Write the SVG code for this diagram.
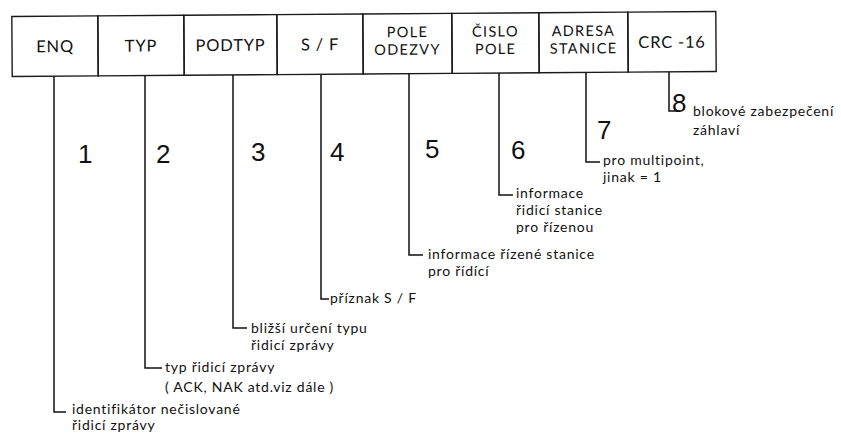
<svg xmlns="http://www.w3.org/2000/svg" width="841" height="434" viewBox="0 0 841 434">
<style>
.box{fill:none;stroke:#1a1a1a;stroke-width:1.4}
.lbl{font-family:Lato,"Open Sans",sans-serif;font-size:16.5px;letter-spacing:0.8px;fill:#111;text-anchor:middle}
.lbl2{font-family:Lato,"Open Sans",sans-serif;font-size:14.5px;letter-spacing:1.3px;fill:#111;text-anchor:middle}
.con{fill:none;stroke:#111;stroke-width:1.5}
.note{font-family:Lato,"Open Sans",sans-serif;font-size:14px;letter-spacing:0.75px;fill:#111}
.num{font-family:"Liberation Sans","DejaVu Sans",sans-serif;font-size:26px;fill:#111}
</style>
<rect width="841" height="434" fill="#fff"/>
<g transform="rotate(-0.4 364 44)">
<g id="box-enq"><rect class="box" x="12" y="14" width="86" height="60"/><text class="lbl" x="55" y="50">ENQ</text></g>
<g id="box-typ"><rect class="box" x="98" y="14" width="86" height="60"/><text class="lbl" x="141" y="50">TYP</text></g>
<g id="box-podtyp"><rect class="box" x="184" y="14" width="93" height="60"/><text class="lbl" x="230.5" y="50">PODTYP</text></g>
<g id="box-sf"><rect class="box" x="277" y="14" width="86" height="60"/><text class="lbl" x="320" y="50">S / F</text></g>
<g id="box-pole-odezvy"><rect class="box" x="363" y="14" width="89" height="60"/><text class="lbl2" x="407.5" y="37.5">POLE</text><text class="lbl2" x="407.5" y="55">ODEZVY</text></g>
<g id="box-cislo-pole"><rect class="box" x="452" y="14" width="87" height="60"/><text class="lbl2" x="495.5" y="37.5">ČISLO</text><text class="lbl2" x="495.5" y="55">POLE</text></g>
<g id="box-adresa"><rect class="box" x="539" y="14" width="89" height="60"/><text class="lbl2" x="583.5" y="37.5">ADRESA</text><text class="lbl2" x="583.5" y="55">STANICE</text></g>
<g id="box-crc"><rect class="box" x="628" y="14" width="88" height="60"/><text class="lbl" x="672" y="50">CRC -16</text></g>
</g>
<g id="connectors">
<path class="con" d="M54 76.2 V412 H66"/>
<path class="con" d="M145 75.6 V368 H162"/>
<path class="con" d="M233 75 V328 H247"/>
<path class="con" d="M321 74.4 V299 H329"/>
<path class="con" d="M409 73.7 V255 H423"/>
<path class="con" d="M499 73.1 V195 H513"/>
<path class="con" d="M586 72.5 V162 H600"/>
<path class="con" d="M669 71.9 V111 H680"/>
</g>
<g id="note-1"><text class="num" x="78" y="163">1</text><text class="note" x="72" y="413.5">identifikátor nečislované</text><text class="note" x="72" y="430.3">řidicí zprávy</text></g>
<g id="note-2"><text class="num" x="156" y="163">2</text><text class="note" x="165" y="372">typ řidicí zprávy</text><text class="note" x="165" y="392">( ACK, NAK atd.viz dále )</text></g>
<g id="note-3"><text class="num" x="251" y="161">3</text><text class="note" x="251" y="333">bližší určení typu</text><text class="note" x="251" y="350">řidicí zprávy</text></g>
<g id="note-4"><text class="num" x="330" y="161">4</text><text class="note" x="330" y="303">příznak S / F</text></g>
<g id="note-5"><text class="num" x="425" y="158">5</text><text class="note" x="428" y="259">informace řízené stanice</text><text class="note" x="428" y="276">pro řídící</text></g>
<g id="note-6"><text class="num" x="511" y="159">6</text><text class="note" x="516" y="197.5">informace</text><text class="note" x="516" y="214.5">řidicí stanice</text><text class="note" x="516" y="231.5">pro řízenou</text></g>
<g id="note-7"><text class="num" x="597" y="139">7</text><text class="note" x="603" y="165">pro multipoint,</text><text class="note" x="603" y="182">jinak = 1</text></g>
<g id="note-8"><text class="num" x="672" y="112">8</text><text class="note" x="693" y="116">blokové zabezpečení</text><text class="note" x="693" y="135">záhlaví</text></g>
</svg>
